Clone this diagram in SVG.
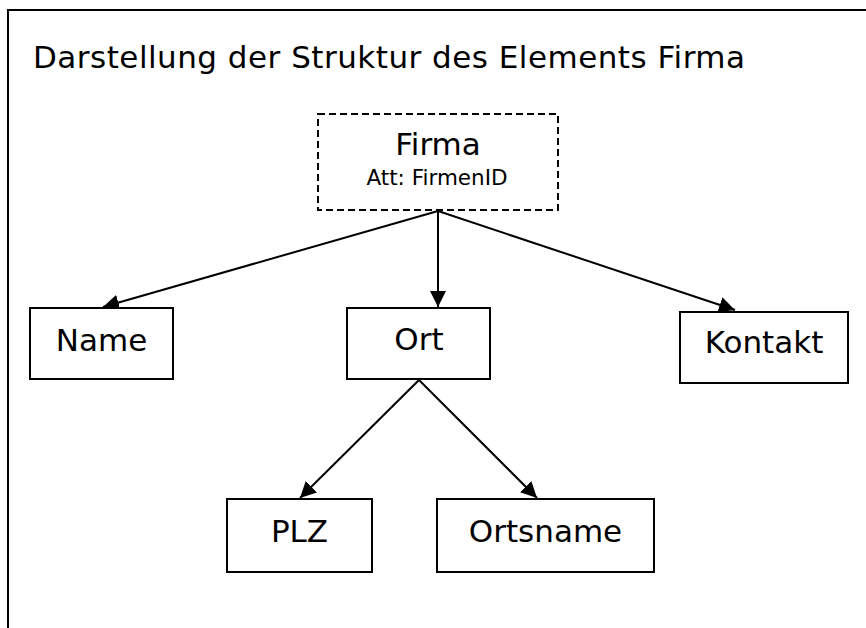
<svg xmlns="http://www.w3.org/2000/svg" width="866" height="628" viewBox="0 0 866 628">
  <style>
    .box { fill: #ffffff; stroke: #000000; stroke-width: 2; }
    .dashed { stroke-dasharray: 7 4; }
    .label { font-family: "DejaVu Sans", Verdana, sans-serif; font-size: 31px; fill: #000000; text-anchor: middle; }
    .small { font-size: 21.5px; }
    .title { font-family: "DejaVu Sans", Verdana, sans-serif; font-size: 31px; fill: #000000; }
    .edge { fill: none; stroke: #000000; stroke-width: 2; }
  </style>
  <defs>
    <marker id="arrow" markerUnits="userSpaceOnUse" markerWidth="16" markerHeight="16" refX="16" refY="8" orient="auto">
      <path d="M0,0 L16,8 L0,16 z" fill="#000000"/>
    </marker>
  </defs>

  <rect x="0" y="0" width="866" height="628" fill="#ffffff"/>

  <!-- page frame -->
  <path d="M866,10 H8 V628" fill="none" stroke="#000000" stroke-width="2"/>

  <text class="title" x="33" y="68" textLength="712" lengthAdjust="spacing">Darstellung der Struktur des Elements Firma</text>

  <g id="connectors">
    <line class="edge" x1="438" y1="211" x2="103" y2="307" marker-end="url(#arrow)"/>
    <line class="edge" x1="438" y1="211" x2="438" y2="307" marker-end="url(#arrow)"/>
    <line class="edge" x1="438" y1="211" x2="735" y2="310" marker-end="url(#arrow)"/>
    <line class="edge" x1="419" y1="380" x2="300" y2="498" marker-end="url(#arrow)"/>
    <line class="edge" x1="419" y1="380" x2="537" y2="498" marker-end="url(#arrow)"/>
  </g>

  <g id="firma">
    <rect class="box dashed" x="318" y="114" width="240" height="96"/>
    <text class="label" x="438" y="155">Firma</text>
    <text class="label small" x="437" y="185">Att: FirmenID</text>
  </g>

  <g id="name">
    <rect class="box" x="30" y="308" width="143" height="71"/>
    <text class="label" x="101.5" y="351">Name</text>
  </g>

  <g id="ort">
    <rect class="box" x="347" y="308" width="143" height="71"/>
    <text class="label" x="419" y="350">Ort</text>
  </g>

  <g id="kontakt">
    <rect class="box" x="680" y="312" width="168" height="71"/>
    <text class="label" x="764" y="353">Kontakt</text>
  </g>

  <g id="plz">
    <rect class="box" x="227" y="499" width="145" height="73"/>
    <text class="label" x="299.5" y="542">PLZ</text>
  </g>

  <g id="ortsname">
    <rect class="box" x="437" y="499" width="217" height="73"/>
    <text class="label" x="545.5" y="542">Ortsname</text>
  </g>
</svg>
